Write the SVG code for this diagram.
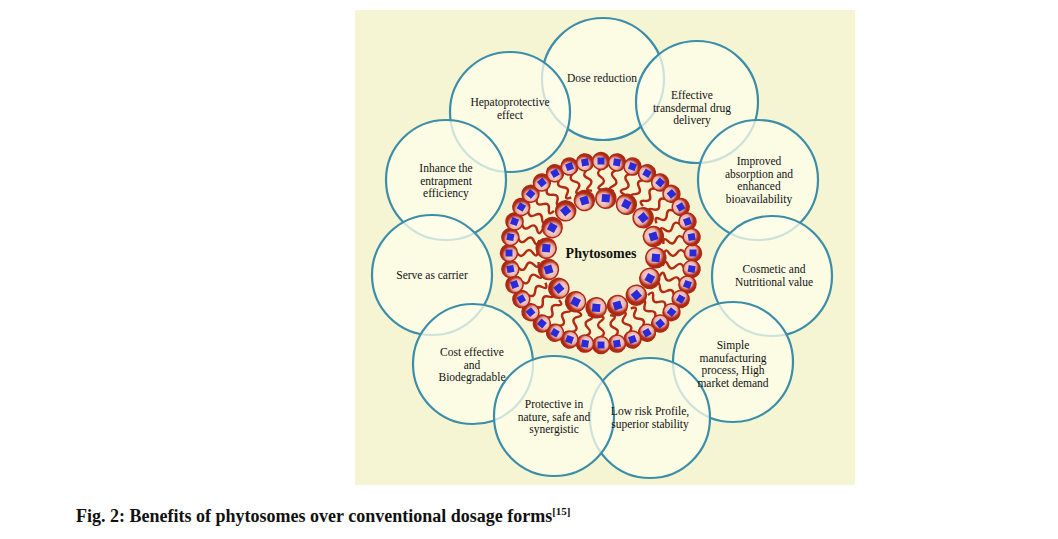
<svg xmlns="http://www.w3.org/2000/svg" xmlns:xlink="http://www.w3.org/1999/xlink" width="1058" height="539" viewBox="0 0 1058 539">
<style>
.c{fill:#fdfdeb;fill-opacity:0.75;stroke:#3c8ea8;stroke-width:2.2}
.t{font-family:"Liberation Serif",serif;font-size:11.5px;fill:#111;text-anchor:middle}
.cap{font-family:"Liberation Serif",serif;font-size:18px;font-weight:bold;fill:#111}
.tail{fill:none;stroke:#b52a12;stroke-width:2.4}
</style>
<defs>
<radialGradient id="bg" cx="0.4" cy="0.4" r="0.6">
<stop offset="0" stop-color="#f8e0dc"/><stop offset="0.55" stop-color="#e8b0a8"/><stop offset="0.8" stop-color="#b8321c"/><stop offset="1" stop-color="#a02410"/>
</radialGradient>
<g id="ob">
<path class="tail" d="M84,0 q-4,-6 -8,0 t-8,0 t-5,2"/>
<circle cx="92" cy="0" r="8.5" fill="url(#bg)" stroke="#b02a14" stroke-width="1.5"/>
<rect x="88.5" y="-3.5" width="7" height="7" fill="#2a2ad8"/>
</g>
<g id="ib">
<circle cx="55" cy="0" r="10" fill="url(#bg)" stroke="#b02a14" stroke-width="1.5"/>
<rect x="51" y="-4" width="8" height="8" fill="#2a2ad8"/>
</g>
</defs>
<rect width="1058" height="539" fill="#fff"/>
<rect x="355" y="10" width="500" height="475" fill="#f5f5d4"/>
<g id="circles">
<circle id="n-dose" class="c" cx="603" cy="79" r="61"/>
<circle id="n-hep" class="c" cx="510" cy="112" r="60"/>
<circle id="n-eff" class="c" cx="697" cy="102" r="61"/>
<circle id="n-imp" class="c" cx="758" cy="180" r="60"/>
<circle id="n-inh" class="c" cx="446" cy="180" r="60"/>
<circle id="n-ser" class="c" cx="432" cy="275" r="60"/>
<circle id="n-cos" class="c" cx="772" cy="276" r="60"/>
<circle id="n-sim" class="c" cx="733" cy="362" r="60"/>
<circle id="n-cost" class="c" cx="473" cy="364" r="60"/>
<circle id="n-low" class="c" cx="650" cy="418" r="60"/>
<circle id="n-pro" class="c" cx="554" cy="416" r="60"/>
</g>
<g id="phytosome" transform="translate(601,253)">
<use xlink:href="#ob" transform="rotate(0)"/><use xlink:href="#ob" transform="rotate(10)"/><use xlink:href="#ob" transform="rotate(20)"/><use xlink:href="#ob" transform="rotate(30)"/><use xlink:href="#ob" transform="rotate(40)"/><use xlink:href="#ob" transform="rotate(50)"/><use xlink:href="#ob" transform="rotate(60)"/><use xlink:href="#ob" transform="rotate(70)"/><use xlink:href="#ob" transform="rotate(80)"/><use xlink:href="#ob" transform="rotate(90)"/><use xlink:href="#ob" transform="rotate(100)"/><use xlink:href="#ob" transform="rotate(110)"/><use xlink:href="#ob" transform="rotate(120)"/><use xlink:href="#ob" transform="rotate(130)"/><use xlink:href="#ob" transform="rotate(140)"/><use xlink:href="#ob" transform="rotate(150)"/><use xlink:href="#ob" transform="rotate(160)"/><use xlink:href="#ob" transform="rotate(170)"/><use xlink:href="#ob" transform="rotate(180)"/><use xlink:href="#ob" transform="rotate(190)"/><use xlink:href="#ob" transform="rotate(200)"/><use xlink:href="#ob" transform="rotate(210)"/><use xlink:href="#ob" transform="rotate(220)"/><use xlink:href="#ob" transform="rotate(230)"/><use xlink:href="#ob" transform="rotate(240)"/><use xlink:href="#ob" transform="rotate(250)"/><use xlink:href="#ob" transform="rotate(260)"/><use xlink:href="#ob" transform="rotate(270)"/><use xlink:href="#ob" transform="rotate(280)"/><use xlink:href="#ob" transform="rotate(290)"/><use xlink:href="#ob" transform="rotate(300)"/><use xlink:href="#ob" transform="rotate(310)"/><use xlink:href="#ob" transform="rotate(320)"/><use xlink:href="#ob" transform="rotate(330)"/><use xlink:href="#ob" transform="rotate(340)"/><use xlink:href="#ob" transform="rotate(350)"/>
<use xlink:href="#ib" transform="rotate(5)"/><use xlink:href="#ib" transform="rotate(27.5)"/><use xlink:href="#ib" transform="rotate(50)"/><use xlink:href="#ib" transform="rotate(72.5)"/><use xlink:href="#ib" transform="rotate(95)"/><use xlink:href="#ib" transform="rotate(117.5)"/><use xlink:href="#ib" transform="rotate(140)"/><use xlink:href="#ib" transform="rotate(162.5)"/><use xlink:href="#ib" transform="rotate(185)"/><use xlink:href="#ib" transform="rotate(207.5)"/><use xlink:href="#ib" transform="rotate(230)"/><use xlink:href="#ib" transform="rotate(252.5)"/><use xlink:href="#ib" transform="rotate(275)"/><use xlink:href="#ib" transform="rotate(297.5)"/><use xlink:href="#ib" transform="rotate(320)"/><use xlink:href="#ib" transform="rotate(342.5)"/>
<text x="0" y="5" font-family="Liberation Serif,serif" font-size="14" font-weight="bold" text-anchor="middle" fill="#111">Phytosomes</text>
</g>
<g id="labels">
<text class="t" x="602" y="82">Dose reduction</text>
<text class="t" x="510" y="106">Hepatoprotective<tspan x="510" dy="12.5">effect</tspan></text>
<text class="t" x="692" y="99">Effective<tspan x="692" dy="12.5">transdermal drug</tspan><tspan x="692" dy="12.5">delivery</tspan></text>
<text class="t" x="759" y="165">Improved<tspan x="759" dy="12.5">absorption and</tspan><tspan x="759" dy="12.5">enhanced</tspan><tspan x="759" dy="12.5">bioavailability</tspan></text>
<text class="t" x="446" y="172">Inhance the<tspan x="446" dy="12.5">entrapment</tspan><tspan x="446" dy="12.5">efficiency</tspan></text>
<text class="t" x="432" y="279">Serve as carrier</text>
<text class="t" x="774" y="273">Cosmetic and<tspan x="774" dy="12.5">Nutritional   value</tspan></text>
<text class="t" x="733" y="349">Simple<tspan x="733" dy="12.5">manufacturing</tspan><tspan x="733" dy="12.5">process, High</tspan><tspan x="733" dy="12.5">market demand</tspan></text>
<text class="t" x="472" y="356">Cost effective<tspan x="472" dy="12.5">and</tspan><tspan x="472" dy="12.5">Biodegradable</tspan></text>
<text class="t" x="650" y="415">Low risk Profile,<tspan x="650" dy="12.5">superior stability</tspan></text>
<text class="t" x="554" y="408">Protective in<tspan x="554" dy="12.5">nature, safe and</tspan><tspan x="554" dy="12.5">synergistic</tspan></text>
</g>
<text class="cap" x="76" y="522">Fig. 2: Benefits of phytosomes over conventional dosage forms<tspan font-size="11" dy="-7">[15]</tspan></text>
</svg>
